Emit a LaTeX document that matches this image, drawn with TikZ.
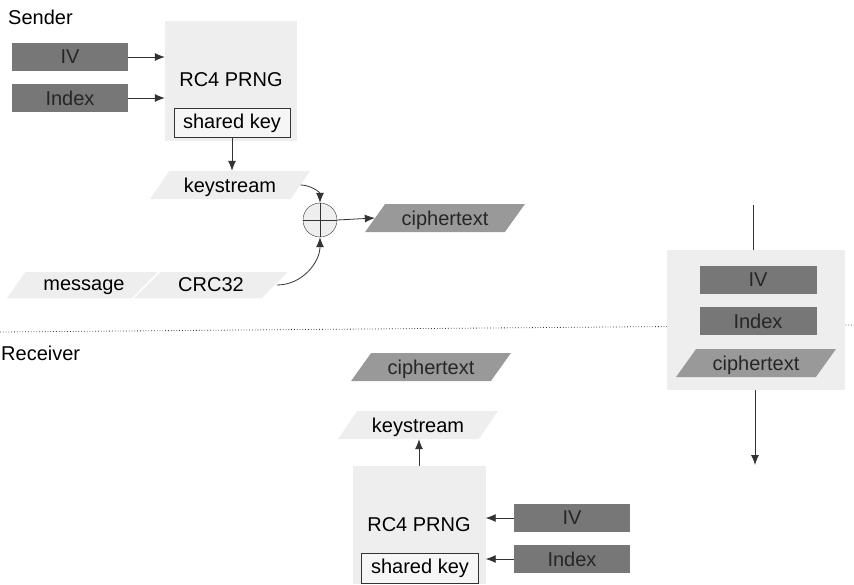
\documentclass[tikz,border=0pt]{standalone}
\usepackage[rgb]{xcolor}
\usepackage{fontspec}
\setmainfont{Liberation Sans}
\usepackage{tikz}
\usetikzlibrary{shapes.geometric,arrows.meta}

\definecolor{lightbox}{HTML}{EEEEEE}
\definecolor{darkbox}{HTML}{777777}
\definecolor{midbox}{HTML}{999999}
\definecolor{linegray}{HTML}{333333}

\tikzset{
 field/.style = {fill=darkbox, text=black!85, minimum width=116pt, minimum height=28pt, inner sep=0pt},
 data/.style = {trapezium, trapezium left angle=45, trapezium right angle=135,
   trapezium stretches=true, minimum width=160pt, minimum height=28pt, inner sep=0pt,
   text depth=0pt},
 flat/.style = {trapezium left angle=38, trapezium right angle=142, minimum width=158pt,
   draw=white, line width=1.5pt},
 plain/.style = {data, fill=lightbox},
 cipher/.style = {data, fill=midbox, text=black!85},
 prng/.style = {fill=lightbox, inner sep=0pt},
 keybox/.style = {draw=linegray, fill=lightbox!50, minimum width=116pt, minimum height=29pt, inner sep=0pt},
 arrow/.style = {-{Latex[length=10pt,width=8pt]}, draw=linegray, line width=0.8pt},
}

\begin{document}
\begin{tikzpicture}[x=1pt, y=-1pt, font=\fontsize{20}{24}\selectfont]

\useasboundingbox (0,0) rectangle (854,584);

% sender and receiver split by a dotted line
\draw [dotted, linegray, line width=0.8pt] (0,332) -- (854,325);

\path
(8,17) node [anchor=west, inner sep=0pt] (senderlbl) {Sender}
(1,353) node [anchor=west, inner sep=0pt] (receiverlbl) {Receiver};

%% sender side
\path
(231,81) node [prng, minimum width=132pt, minimum height=120pt] (prngA) {}
(231,80) node (prngAtxt) {RC4 PRNG}
(232,123) node [keybox] (keyA) {shared key}
(70,57) node [field] (ivA) {IV}
(70,98) node [field] (idxA) {Index}
(230,185) node [plain] (ksA) {keystream}
(84,285) node [plain, flat] (msgA) {message}
(211,285) node [plain, flat] (crcA) {CRC32}
(445,218) node [cipher] (ciphA) {ciphertext};

\node [circle, draw=linegray, fill=lightbox, minimum size=34pt, inner sep=0pt,
  path picture={\draw[linegray]
   (path picture bounding box.north) -- (path picture bounding box.south)
   (path picture bounding box.west) -- (path picture bounding box.east);}]
  (xor) at (320,220) {};

\foreach \f in {ivA, idxA}
  \draw [arrow] (\f) -- (\f -| prngA.west);

\draw [arrow] (keyA.south) -- (keyA.south |- ksA.north);
\draw [arrow] (ksA.east) to [out=0, in=90] (xor.north);
\draw [arrow] (crcA.east) to [out=0, in=-90] (xor.south);
\draw [arrow] (xor.east) -- (ciphA.west);

%% the frame on the wire
\node [prng, minimum width=178pt, minimum height=140pt] (frame) at (756,320) {};
\path
(758,280) node [field, minimum width=117pt] (ivW) {IV}
(758,321) node [field, minimum width=117pt] (idxW) {Index}
(756,363) node [cipher] (ciphW) {ciphertext};

\coordinate (wirein) at (753,205);
\coordinate (wireout) at (755,465);
\draw [linegray, line width=0.8pt] (wirein) -- (wirein |- frame.north);
\draw [arrow] (wireout |- frame.south) -- (wireout);

%% receiver side
\path
(419,525) node [prng, minimum width=133pt, minimum height=118pt] (prngB) {RC4 PRNG}
(420,568) node [keybox, minimum width=117pt, minimum height=30pt] (keyB) {shared key}
(572,518) node [field] (ivB) {IV}
(572,559) node [field] (idxB) {Index}
(418,425) node [plain] (ksB) {keystream}
(431,367) node [cipher] (ciphB) {ciphertext};

\foreach \f in {ivB, idxB}
  \draw [arrow] (\f) -- (\f -| prngB.east);

\draw [arrow] (prngB.north) -- (prngB.north |- ksB.south);

\end{tikzpicture}
\end{document}
